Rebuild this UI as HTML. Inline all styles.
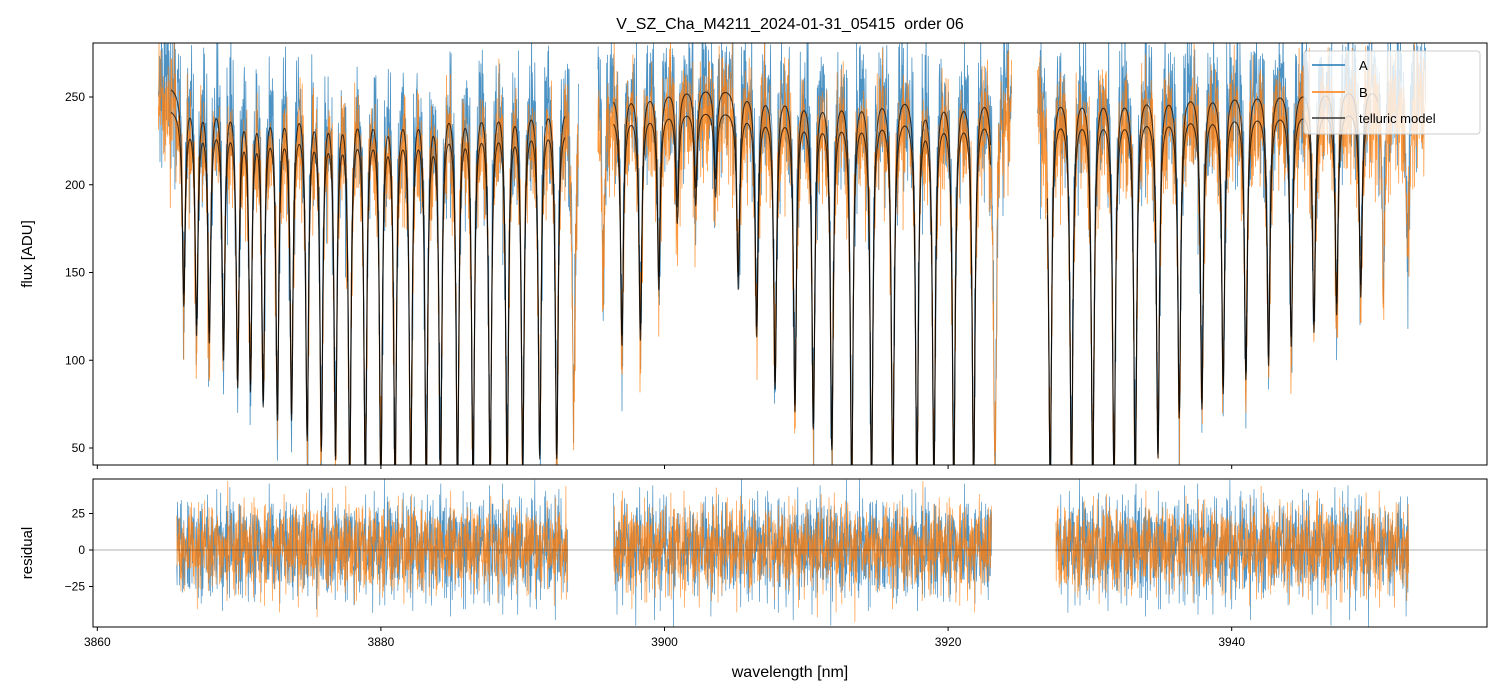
<!DOCTYPE html>
<html><head><meta charset="utf-8">
<style>
body{margin:0;background:#fff;}
svg{display:block;font-family:"Liberation Sans","DejaVu Sans",sans-serif;}
</style></head>
<body>
<svg id="chart" width="1502" height="696" viewBox="0 0 1502 696" xmlns="http://www.w3.org/2000/svg">
<defs>
<clipPath id="cTop"><rect x="93" y="43" width="1394" height="422"/></clipPath>
<clipPath id="cBot"><rect x="93" y="479" width="1394" height="148"/></clipPath>
</defs>
<rect width="1502" height="696" fill="#fff"/>
<text x="790" y="29" font-size="16" text-anchor="middle" fill="#000" style="white-space:pre">V_SZ_Cha_M4211_2024-01-31_05415  order 06</text>
<g id="gtop" clip-path="url(#cTop)"></g>
<g id="gbot" clip-path="url(#cBot)"></g>
<g id="axes"></g>
<text transform="translate(32,254) rotate(-90)" font-size="15" text-anchor="middle">flux [ADU]</text>
<text transform="translate(32,553) rotate(-90)" font-size="15" text-anchor="middle">residual</text>
<text x="790" y="677" font-size="16" text-anchor="middle">wavelength [nm]</text>
<g>
<rect x="1304" y="51" width="176" height="83" rx="3" fill="#fff" fill-opacity="0.8" stroke="#ccc" stroke-width="1"/>
<line x1="1312" y1="65" x2="1345" y2="65" stroke="#1f77b4" stroke-width="1.5"/>
<text x="1359" y="70" font-size="13">A</text>
<line x1="1312" y1="92" x2="1345" y2="92" stroke="#ff7f0e" stroke-width="1.5"/>
<text x="1359" y="97" font-size="13">B</text>
<line x1="1312" y1="118" x2="1345" y2="118" stroke="#333" stroke-width="1.5"/>
<text x="1359" y="123" font-size="13">telluric model</text>
</g>
</svg>
<script>
// ---- data ----
const lineCenters=[3866.1,3867.0,3867.9,3868.9,3869.9,3870.8,3871.7,3872.7,3873.7,3874.8,3875.8,3876.8,3877.8,3878.9,3880.0,3881.0,3882.1,3883.2,3884.2,3885.4,3886.5,3887.7,3888.9,3890.0,3891.2,3892.4,3893.6,3895.7,3897.0,3898.3,3899.6,3900.9,3902.2,3903.6,3905.2,3906.5,3907.8,3909.2,3910.5,3911.8,3913.2,3914.6,3916.1,3917.8,3919.0,3920.4,3921.8,3923.3,3927.2,3928.7,3930.2,3931.7,3933.2,3934.8,3936.3,3937.9,3939.4,3941.0,3942.6,3944.2,3945.8,3947.4,3949.1,3950.7,3952.4];
const lineMinFlux=[133,117,113,103,87,85,76,68,68,56,50,45,35,30,30,30,30,30,30,30,30,30,35,40,45,45,62,150,110,113,142,180,190,195,142,115,85,72,62,50,30,30,30,30,30,30,30,30,30,30,30,30,30,45,68,73,82,90,98,109,117,127,137,147,150];
const contA=[258],contB=[245];
const noise1=[0.3,-0.8,1.2,-0.2,0.6,-1.5,0.9,0.1,-0.6,1.8,-0.9,0.4,-0.3,1.1,-1.2,0.7,-0.1,0.5,-2.0,1.4,-0.5,0.2,0.8,-1.0,1.6,-0.4,0.0,-0.7,1.0,-1.3,0.6,2.2,-0.9,0.3,-0.2,1.3,-1.7,0.5,-0.6,0.9,-0.1,1.5,-1.1,0.4,-0.8,0.2,1.9,-1.4,0.7,-0.3,0.1,-2.3,1.2];
const noise2=[-0.5,0.9,-1.1,0.4,1.6,-0.2,-0.9,0.7,-1.8,0.3,1.2,-0.6,0.5,-0.1,2.0,-1.3,0.8,-0.4,0.1,-1.5,1.1,0.6,-0.8,1.4,-0.3,-1.0,0.2,1.7,-0.7,0.4,-2.1,0.9,-0.2,1.0,-1.2,0.3,0.6];
const xTicks=[3860,3880,3900,3920,3940];
const yTicksTop=[50,100,150,200,250];
const yTicksBot=[-25,0,25];
const dataRange=[3864.3,3953.7];
const dataGaps=[[3893.95,3895.3],[3924.5,3926.3]];
const modelSegs=[[3865.2,3893.0],[3896.4,3923.0],[3927.0,3950.3]];
const residSegs=[[3865.6,3893.2],[3896.4,3923.1],[3927.6,3952.5]];
// ---- scales ----
const X=l=>97.3+(l-3860)*14.18;
const YT=v=>97+(250-v)*1.755;
const YB=v=>550-v*1.46;
const W=0.125;
function model(l,C){let f=C;for(let i=0;i<lineCenters.length;i++){const a=1-lineMinFlux[i]/245;const d=(l-lineCenters[i])/W;f*=1-a/(1+d*d);}return f;}
const step=0.025;
function nz(k,o){return noise1[(k+o)%noise1.length]*0.7+noise2[(k*3+o)%noise2.length]*0.7;}
function inGap(l){return dataGaps.some(g=>l>g[0]&&l<g[1]);}
function mkPath(g,d,color,w,op,name){const p=document.createElementNS('http://www.w3.org/2000/svg','path');p.setAttribute('d',d);p.setAttribute('fill','none');p.setAttribute('stroke',color);p.setAttribute('stroke-width',w);p.setAttribute('stroke-opacity',op);p.setAttribute('stroke-linejoin','round');


g.appendChild(p);}
const gTop=document.getElementById('gtop'),gBot=document.getElementById('gbot');
function series(C,o,sd,color,name){let d='',pen=false,k=0;for(let l=dataRange[0];l<=dataRange[1];l+=step,k++){if(inGap(l)){pen=false;continue;}const v=model(l,C)+nz(k,o)*sd;d+=(pen?'L':'M')+X(l).toFixed(1)+' '+YT(v).toFixed(1);pen=true;}mkPath(gTop,d,color,0.8,0.8,name);}
series(contA[0],0,22,'#1f77b4','series-a-flux');
series(contB[0],17,19,'#ff7f0e','series-b-flux');
[contA[0],contB[0]].forEach((C,j)=>{let d='';modelSegs.forEach(s=>{let first=true;for(let l=s[0];l<=s[1];l+=0.01){d+=(first?'M':'L')+X(l).toFixed(1)+' '+YT(model(l,C)).toFixed(1);first=false;}});mkPath(gTop,d,'#000',1.1,0.7,'telluric-model-'+(j?'b':'a'));});
function resid(o,sd,color,name){let d='';residSegs.forEach(s=>{let first=true,k=Math.round(s[0]*40);for(let l=s[0];l<=s[1];l+=step,k++){d+=(first?'M':'L')+X(l).toFixed(1)+' '+YB(nz(k,o)*sd).toFixed(1);first=false;}});mkPath(gBot,d,color,0.7,0.8,name);}
resid(5,18,'#1f77b4','residual-a');
resid(23,16,'#ff7f0e','residual-b');
mkPath(gBot,'M93 '+YB(0)+'H1487','#000',0.6,0.6,'residual-zero-line');
// axes
const ax=document.getElementById('axes');
function el(t,a,name){const e=document.createElementNS('http://www.w3.org/2000/svg',t);for(const k in a)e.setAttribute(k,a[k]);


ax.appendChild(e);return e;}
el('rect',{x:93,y:43,width:1394,height:422,fill:'none',stroke:'#000','stroke-width':1},'flux-axes-frame');
el('rect',{x:93,y:479,width:1394,height:148,fill:'none',stroke:'#000','stroke-width':1},'residual-axes-frame');
xTicks.forEach(t=>{el('line',{x1:X(t),x2:X(t),y1:465,y2:469,stroke:'#000'},'x-tick-top');el('line',{x1:X(t),x2:X(t),y1:627,y2:631,stroke:'#000'},'x-tick');const tx=el('text',{x:X(t),y:646,'font-size':12,'text-anchor':'middle'},'x-tick-label');tx.textContent=t;});
yTicksTop.forEach(t=>{el('line',{x1:89,x2:93,y1:YT(t),y2:YT(t),stroke:'#000'},'y-tick-flux');const tx=el('text',{x:85,y:YT(t)+4,'font-size':12,'text-anchor':'end'},'y-tick-label-flux');tx.textContent=t;});
yTicksBot.forEach(t=>{el('line',{x1:89,x2:93,y1:YB(t),y2:YB(t),stroke:'#000'},'y-tick-residual');const tx=el('text',{x:85,y:YB(t)+4,'font-size':12,'text-anchor':'end'},'y-tick-label-residual');tx.textContent=t<0?'\u2212'+(-t):t;});
</script>
</body></html>
